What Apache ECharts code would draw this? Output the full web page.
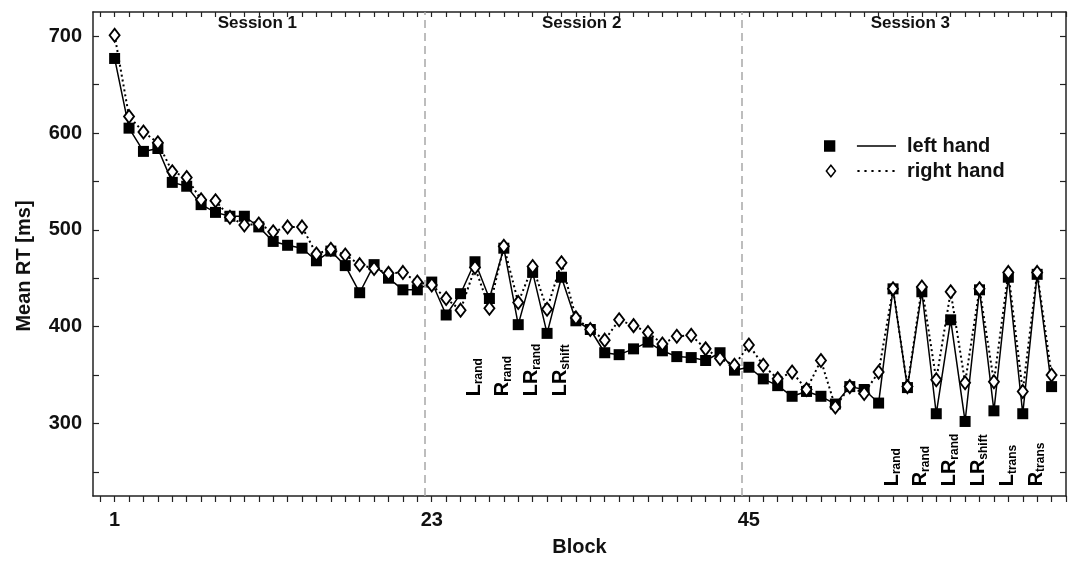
<!DOCTYPE html>
<html><head><meta charset="utf-8">
<script src="https://cdn.jsdelivr.net/npm/echarts@6/dist/echarts.min.js"></script>
<style>html,body{margin:0;padding:0;background:#fff}#c{width:1069px;height:562px}</style>
</head><body><div id="c"></div>
<script>
// ---------- data ----------
const blocks = Array.from({length: 66}, (_, i) => i + 1);
const leftHand = [677,605,581,584,549,545,526,518,514,514,503,488,484,481,468,478,463,435,464,450,438,438,
                  446,412,434,467,429,481,402,456,393,451,406,397,373,371,377,384,375,369,368,365,373,355,
                  358,346,339,328,333,328,320,338,335,321,439,337,436,310,407,302,438,313,451,310,454,338];
const rightHand = [701,617,601,590,560,554,531,530,513,505,506,498,503,503,475,480,474,464,460,455,456,446,
                   443,429,417,461,419,483,425,462,418,466,409,397,386,407,401,394,382,390,391,377,367,360,
                   381,360,346,353,335,365,317,338,331,353,439,338,441,345,436,342,439,343,456,333,456,350];
const xTickValues = Array.from({length: 68}, (_, i) => i);
const xLabelValues = [1, 23, 45];
const yTickValues = [250,300,350,400,450,500,550,600,650,700];
const yLabelValues = [300,400,500,600,700];
const sessionBounds = [22.5, 44.5];
const sessionNames = ['Session 1', 'Session 2', 'Session 3'];
const sessionCenters = [10.9, 33.4, 56.2];
const anno2Blocks = [26, 28, 30, 32];
const anno2Main = ['L', 'R', 'LR', 'LR'];
const anno2Sub = ['rand', 'rand', 'rand', 'shift'];
const anno3Blocks = [55, 57, 59, 61, 63, 65];
const anno3Main = ['L', 'R', 'LR', 'LR', 'L', 'R'];
const anno3Sub = ['rand', 'rand', 'rand', 'shift', 'trans', 'trans'];
const anno2Level = 328;
const anno3Level = 235;

// ---------- chart ----------
const FONT = '"Liberation Sans", Arial, Helvetica, sans-serif';
const INK = '#111';
const chart = echarts.init(document.getElementById('c'), null, {renderer: 'canvas'});

const frameLine = {show: true, onZero: false, lineStyle: {color: '#222', width: 1.5}};
const baseX = {type: 'value', min: -0.5, max: 67, splitLine: {show: false}, axisLine: frameLine};
const baseY = {type: 'value', min: 225, max: 725, splitLine: {show: false}, axisLine: frameLine};

chart.setOption({
  animation: false,
  backgroundColor: '#fff',
  grid: {left: 93, right: 3, top: 12, bottom: 62, containLabel: false},
  xAxis: [
    Object.assign({}, baseX, {
      position: 'bottom',
      axisTick: {show: true, inside: false, length: 6, lineStyle: {color: '#222', width: 1.2}, customValues: xTickValues},
      axisLabel: {show: true, customValues: xLabelValues, margin: 14, fontSize: 20, fontWeight: 'bold', color: INK, fontFamily: FONT},
      name: 'Block', nameLocation: 'middle', nameGap: 41,
      nameTextStyle: {fontSize: 20, fontWeight: 'bold', color: INK, fontFamily: FONT}
    }),
    Object.assign({}, baseX, {
      position: 'top',
      axisTick: {show: true, inside: true, length: 5, lineStyle: {color: '#222', width: 1.2}, customValues: xTickValues},
      axisLabel: {show: false}
    })
  ],
  yAxis: [
    Object.assign({}, baseY, {
      position: 'left',
      axisTick: {show: true, inside: true, length: 6, lineStyle: {color: '#222', width: 1.2}, customValues: yTickValues},
      axisLabel: {show: true, customValues: yLabelValues, margin: 11, fontSize: 20, fontWeight: 'bold', color: INK, fontFamily: FONT}
    }),
    Object.assign({}, baseY, {
      position: 'right',
      axisTick: {show: true, inside: true, length: 6, lineStyle: {color: '#222', width: 1.2}, customValues: yTickValues},
      axisLabel: {show: false}
    })
  ],
  legend: {
    orient: 'vertical', left: 819, top: 131, itemWidth: 72, itemHeight: 14, itemGap: 5,
    selectedMode: false,
    textStyle: {fontSize: 20, fontWeight: 'bold', color: INK, fontFamily: FONT, lineHeight: 20, padding: [0, 0, 0, 6]},
    data: [
      {name: 'left hand', icon: 'path://M0,1.5h11v11h-11z M32,6.25h38v1.5h-38z', itemStyle: {color: '#000', borderWidth: 0}},
      {name: 'right hand', icon: 'path://M5.5,0L11,7L5.5,14L0,7Z M5.5,2.5L1.9,7L5.5,11.5L9.1,7Z M32,6h2.2v2h-2.2z M39,6h2.2v2h-2.2z M46,6h2.2v2h-2.2z M53,6h2.2v2h-2.2z M60,6h2.2v2h-2.2z M67,6h2.2v2h-2.2z', itemStyle: {color: '#000', borderWidth: 0}}
    ]
  },
  series: [
    {
      name: 'left hand', type: 'line', xAxisIndex: 0, yAxisIndex: 0,
      data: blocks.map((b, i) => [b, leftHand[i]]),
      symbol: 'rect', symbolSize: 11, showAllSymbol: true,
      itemStyle: {color: '#000'},
      lineStyle: {color: '#000', width: 1.5},
      z: 3,
      markLine: {
        silent: true, symbol: ['none', 'none'], label: {show: false},
        lineStyle: {color: '#a8a8a8', type: [8, 5], width: 1.5},
        data: sessionBounds.map(v => ({xAxis: v}))
      }
    },
    {
      name: 'right hand', type: 'line', xAxisIndex: 0, yAxisIndex: 0,
      data: blocks.map((b, i) => [b, rightHand[i]]),
      symbol: 'diamond', symbolSize: [10, 13], showAllSymbol: true,
      itemStyle: {color: '#fff', borderColor: '#000', borderWidth: 1.9},
      lineStyle: {color: '#000', width: 2, type: [2, 3]},
      z: 4
    }
  ]
});

// ---------- text annotations positioned through the axes ----------
function px(x, y) { return chart.convertToPixel({xAxisIndex: 0, yAxisIndex: 0}, [x, y]); }
const graphics = [];
const rich = {
  m: {fontSize: 20, fontWeight: 'bold', fontFamily: FONT, color: INK, lineHeight: 22, verticalAlign: 'middle'},
  s: {fontSize: 12, fontWeight: 'bold', fontFamily: FONT, color: INK, lineHeight: 12, verticalAlign: 'bottom'}
};
function addAnno(blocksArr, mains, subs, level) {
  blocksArr.forEach((b, i) => {
    const p = px(b, level);
    graphics.push({
      type: 'text', x: p[0] - 1, y: p[1], rotation: Math.PI / 2, silent: true,
      style: {text: '{m|' + mains[i] + '}{s|' + subs[i] + '}', rich: rich, align: 'left', verticalAlign: 'middle'}
    });
  });
}
addAnno(anno2Blocks, anno2Main, anno2Sub, anno2Level);
addAnno(anno3Blocks, anno3Main, anno3Sub, anno3Level);
sessionNames.forEach((n, i) => {
  const p = px(sessionCenters[i], 725);
  graphics.push({
    type: 'text', x: p[0], y: p[1] + 11, silent: true,
    style: {text: n, fontSize: 17, fontWeight: 'bold', fontFamily: FONT, fill: INK, align: 'center', verticalAlign: 'middle'}
  });
});
const yMid = px(0, 475);
graphics.push({
  type: 'text', x: 24, y: yMid[1] + 12, rotation: Math.PI / 2, silent: true,
  style: {text: 'Mean RT [ms]', fontSize: 20, fontWeight: 'bold', fontFamily: FONT, fill: INK, align: 'center', verticalAlign: 'middle'}
});
chart.setOption({graphic: graphics});
</script>
</body></html>
